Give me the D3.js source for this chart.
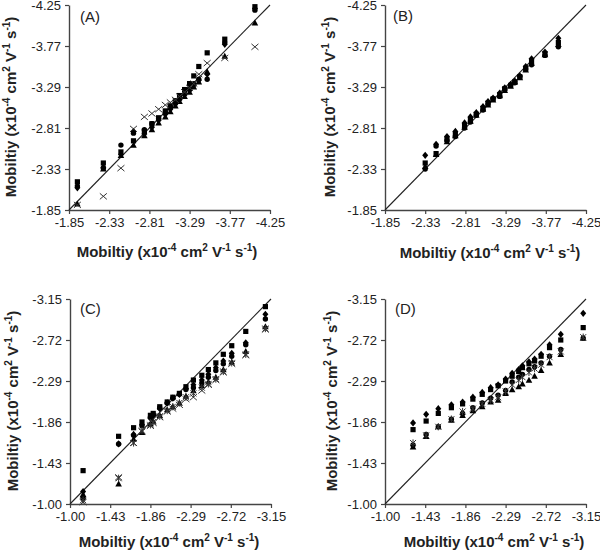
<!DOCTYPE html>
<html><head><meta charset="utf-8">
<script src="https://cdn.jsdelivr.net/npm/d3@7"></script>
<style>body{margin:0;background:#fff}</style>
</head><body><svg id="c" width="600" height="555"></svg>
<script>
// ---- tick labels ----
const ticksAB = [-1.85, -2.33, -2.81, -3.29, -3.77, -4.25];
const ticksCD = [-1.00, -1.43, -1.86, -2.29, -2.72, -3.15];

// ---- panel A ----
const aX        = [-1.95, -2.26, -2.47, -2.62, -2.75, -2.84, -2.92, -3.00, -3.06, -3.12, -3.17, -3.23, -3.29, -3.34, -3.40, -3.50, -3.71, -4.07];
const aSquare   = [-2.18, -2.40, -2.53, -2.66, -2.77, -2.86, -2.93, -3.01, -3.07, -3.13, -3.19, -3.26, -3.33, -3.42, -3.53, -3.69, -3.85, -4.23];
const aDiamond  = [-2.11, -2.35, -2.50, -2.77, -2.74, -2.82, -2.90, -2.97, -3.03, -3.09, -3.14, -3.20, -3.25, -3.31, -3.37, -3.44, -3.79, -4.21];
const aCircle   = [-2.13, -2.34, -2.61, -2.75, -2.79, -2.86, -2.92, -2.99, -3.05, -3.10, -3.16, -3.21, -3.27, -3.33, -3.38, -3.38, -3.81, -4.19];
const aTriangle = [-1.92, -2.33, -2.49, -2.61, -2.72, -2.79, -2.87, -2.94, -3.00, -3.07, -3.12, -3.18, -3.23, -3.29, -3.35, -3.47, -3.65, -4.04];
const aCross    = [-1.91, -2.01, -2.34, -2.80, -2.94, -2.98, -3.03, -3.08, -3.11, -3.14, -3.18, -3.23, -3.28, -3.33, -3.44, -3.57, -3.63, -3.76];

// ---- panel B ----
const bX        = [-2.33, -2.46, -2.59, -2.69, -2.80, -2.87, -2.94, -3.02, -3.08, -3.14, -3.22, -3.28, -3.35, -3.40, -3.46, -3.53, -3.60, -3.76, -3.92];
const bDiamond  = [-2.49, -2.62, -2.71, -2.77, -2.87, -2.94, -2.99, -3.06, -3.12, -3.16, -3.22, -3.28, -3.32, -3.36, -3.42, -3.53, -3.62, -3.70, -3.86];
const bSquare   = [-2.40, -2.51, -2.68, -2.74, -2.84, -2.91, -2.97, -3.04, -3.10, -3.15, -3.20, -3.27, -3.31, -3.35, -3.41, -3.51, -3.59, -3.68, -3.81];
const bTriangle = [-2.36, -2.50, -2.65, -2.72, -2.82, -2.89, -2.96, -3.03, -3.08, -3.14, -3.19, -3.25, -3.30, -3.35, -3.40, -3.49, -3.57, -3.67, -3.79];
const bCircle   = [-2.33, -2.60, -2.66, -2.71, -2.81, -2.88, -2.96, -3.02, -3.09, -3.15, -3.18, -3.26, -3.31, -3.34, -3.41, -3.50, -3.55, -3.66, -3.76];

// ---- panel C ----
const cX        = [-1.14, -1.52, -1.68, -1.77, -1.86, -1.89, -1.96, -2.04, -2.10, -2.17, -2.24, -2.32, -2.41, -2.48, -2.56, -2.64, -2.73, -2.88, -3.09];
const cSquare   = [-1.35, -1.71, -1.80, -1.86, -1.93, -1.95, -2.02, -2.07, -2.12, -2.16, -2.23, -2.30, -2.35, -2.41, -2.48, -2.57, -2.66, -2.81, -3.07];
const cDiamond  = [-1.13, -1.63, -1.73, -1.83, -1.90, -1.93, -2.00, -2.06, -2.11, -2.15, -2.21, -2.25, -2.30, -2.36, -2.43, -2.50, -2.58, -2.69, -2.99];
const cCircle   = [-1.06, -1.63, -1.72, -1.82, -1.91, -1.94, -2.01, -2.06, -2.11, -2.15, -2.20, -2.22, -2.27, -2.33, -2.40, -2.47, -2.55, -2.67, -2.94];
const cTriangle = [-1.10, -1.21, -1.68, -1.75, -1.84, -1.87, -1.93, -1.99, -2.02, -2.06, -2.13, -2.19, -2.24, -2.28, -2.33, -2.41, -2.49, -2.60, -2.86];
const cAsterisk = [-1.04, -1.27, -1.64, -1.77, -1.83, -1.86, -1.92, -1.98, -2.02, -2.06, -2.12, -2.16, -2.22, -2.26, -2.31, -2.39, -2.48, -2.57, -2.84];
const cCross    = [-1.02, -1.28, -1.64, -1.76, -1.82, -1.85, -1.91, -1.97, -2.00, -2.04, -2.10, -2.12, -2.19, -2.25, -2.30, -2.38, -2.47, -2.56, -2.83];

// ---- panel D ----
const dX        = [-1.30, -1.44, -1.57, -1.71, -1.83, -1.94, -2.04, -2.13, -2.21, -2.29, -2.36, -2.43, -2.47, -2.54, -2.60, -2.67, -2.76, -2.88, -3.12];
const dDiamond  = [-1.85, -1.94, -2.00, -2.04, -2.07, -2.12, -2.17, -2.22, -2.25, -2.31, -2.37, -2.41, -2.45, -2.49, -2.52, -2.57, -2.67, -2.78, -3.00];
const dSquare   = [-1.78, -1.87, -1.95, -2.01, -2.05, -2.10, -2.15, -2.20, -2.24, -2.29, -2.34, -2.39, -2.43, -2.47, -2.50, -2.55, -2.64, -2.72, -2.85];
const dCircle   = [-1.62, -1.73, -1.81, -1.89, -1.95, -2.01, -2.06, -2.11, -2.14, -2.19, -2.28, -2.33, -2.36, -2.41, -2.44, -2.48, -2.55, -2.62, -2.74];
const dTriangle = [-1.60, -1.71, -1.81, -1.88, -1.93, -1.98, -2.02, -2.07, -2.09, -2.16, -2.20, -2.23, -2.26, -2.30, -2.34, -2.40, -2.48, -2.57, -2.74];
const dAsterisk = [-1.64, -1.72, -1.81, -1.89, -1.97, -2.00, -2.05, -2.09, -2.12, -2.18, -2.25, -2.30, -2.33, -2.38, -2.42, -2.46, -2.54, -2.60, -2.75];

const svg = d3.select('#c');

const shapes = {
  diamond:  {draw(c){c.moveTo(0,-3.6);c.lineTo(3,0);c.lineTo(0,3.6);c.lineTo(-3,0);c.closePath();}},
  square:   {draw(c){c.rect(-2.6,-2.6,5.2,5.2);}},
  triangle: {draw(c){c.moveTo(0,-3.4);c.lineTo(3.3,2.6);c.lineTo(-3.3,2.6);c.closePath();}},
  circle:   {draw(c){c.moveTo(2.7,0);c.arc(0,0,2.7,0,2*Math.PI);}},
  cross:    {draw(c){c.moveTo(-3.5,-3);c.lineTo(3.5,3);c.moveTo(-3.5,3);c.lineTo(3.5,-3);}},
  asterisk: {draw(c){c.moveTo(-3,-3);c.lineTo(3,3);c.moveTo(-3,3);c.lineTo(3,-3);c.moveTo(0,-3.6);c.lineTo(0,3.6);}}
};
const stroked = {cross:true, asterisk:true};
const FONT = "Arial, 'Liberation Sans', Helvetica, sans-serif";

function title(sel){
  const parts = [["Mobiltiy (x10",0],["-4",1],[" cm",0],["2",1],[" V",0],["-1",1],[" s",0],["-1",1],[")",0]];
  parts.forEach(([t,s],i)=>{
    const ts = sel.append('tspan').text(t);
    if(s){ ts.attr('font-size',10).attr('dy', i? -6: 0); }
    else if(i>0 && parts[i-1][1]) { ts.attr('dy',6); }
  });
}

function panel(p){
  const g = svg.append('g');
  const x = d3.scaleLinear().domain(p.domain).range(p.xr);
  const y = d3.scaleLinear().domain(p.domain).range(p.yr);
  const fmt = d => d.toFixed(2);

  const gx = g.append('g').attr('transform',`translate(0,${p.yr[0]})`)
    .call(d3.axisBottom(x).tickValues(p.ticks).tickFormat(fmt).tickSize(4).tickSizeOuter(0).tickPadding(4));
  const gy = g.append('g').attr('transform',`translate(${p.xr[0]},0)`)
    .call(d3.axisLeft(y).tickValues(p.ticks).tickFormat(fmt).tickSize(4).tickSizeOuter(0).tickPadding(4));
  [gx,gy].forEach(a=>{
    a.select('.domain').attr('stroke','#444').attr('stroke-width',1.4);
    a.selectAll('.tick line').attr('stroke','#444').attr('stroke-width',1.2);
    a.selectAll('.tick text').attr('fill','#222').style('font-family',FONT).style('font-size','13px');
  });

  // identity line
  g.append('line')
    .attr('x1',x(p.domain[0])).attr('y1',y(p.domain[0]))
    .attr('x2',x(p.domain[1])).attr('y2',y(p.domain[1]))
    .attr('stroke','#222').attr('stroke-width',1.1);

  p.series.forEach(s=>{
    const sym = d3.symbol().type(shapes[s.shape]);
    g.append('g').selectAll('path').data(s.values.map((v,i)=>[p.xs[i],v]).filter(d=>d[1]!=null))
      .join('path')
      .attr('transform',d=>`translate(${x(d[0])},${y(d[1])})`)
      .attr('d',sym)
      .attr('fill', stroked[s.shape] ? 'none' : '#000')
      .attr('stroke', stroked[s.shape] ? '#333' : 'none')
      .attr('stroke-width',1);
  });

  g.append('text').attr('x',p.lab[0]).attr('y',p.lab[1])
    .style('font-family',FONT).style('font-size','15px').attr('fill','#222').text(p.label);

  const xt = g.append('text').attr('x',p.xt[0]).attr('y',p.xt[1]).attr('text-anchor','middle')
    .style('font-family',FONT).style('font-size','15px').style('font-weight','bold').attr('fill','#222');
  title(xt);
  const yt = g.append('text').attr('transform',`translate(${p.yt[0]},${p.yt[1]}) rotate(-90)`).attr('text-anchor','middle')
    .style('font-family',FONT).style('font-size','15px').style('font-weight','bold').attr('fill','#222');
  title(yt);
}

panel({domain:[-1.85,-4.25], ticks:ticksAB, xr:[69,270], yr:[210,5], xs:aX, label:'(A)', lab:[80,22], xt:[167,257], yt:[16,107],
  series:[{shape:'circle',values:aCircle},{shape:'square',values:aSquare},{shape:'diamond',values:aDiamond},{shape:'triangle',values:aTriangle},{shape:'cross',values:aCross}]});
panel({domain:[-1.85,-4.25], ticks:ticksAB, xr:[385,586], yr:[210,5], xs:bX, label:'(B)', lab:[393,21], xt:[490,258], yt:[335,107],
  series:[{shape:'circle',values:bCircle},{shape:'square',values:bSquare},{shape:'triangle',values:bTriangle},{shape:'diamond',values:bDiamond}]});
panel({domain:[-1.00,-3.15], ticks:ticksCD, xr:[70,271], yr:[504,299], xs:cX, label:'(C)', lab:[80,314], xt:[169,547], yt:[18,401],
  series:[{shape:'circle',values:cCircle},{shape:'square',values:cSquare},{shape:'diamond',values:cDiamond},{shape:'triangle',values:cTriangle},{shape:'asterisk',values:cAsterisk},{shape:'cross',values:cCross}]});
panel({domain:[-1.00,-3.15], ticks:ticksCD, xr:[385,586], yr:[504,299], xs:dX, label:'(D)', lab:[395,314], xt:[494,547], yt:[337,401],
  series:[{shape:'circle',values:dCircle},{shape:'square',values:dSquare},{shape:'triangle',values:dTriangle},{shape:'asterisk',values:dAsterisk},{shape:'diamond',values:dDiamond}]});
</script></body></html>
